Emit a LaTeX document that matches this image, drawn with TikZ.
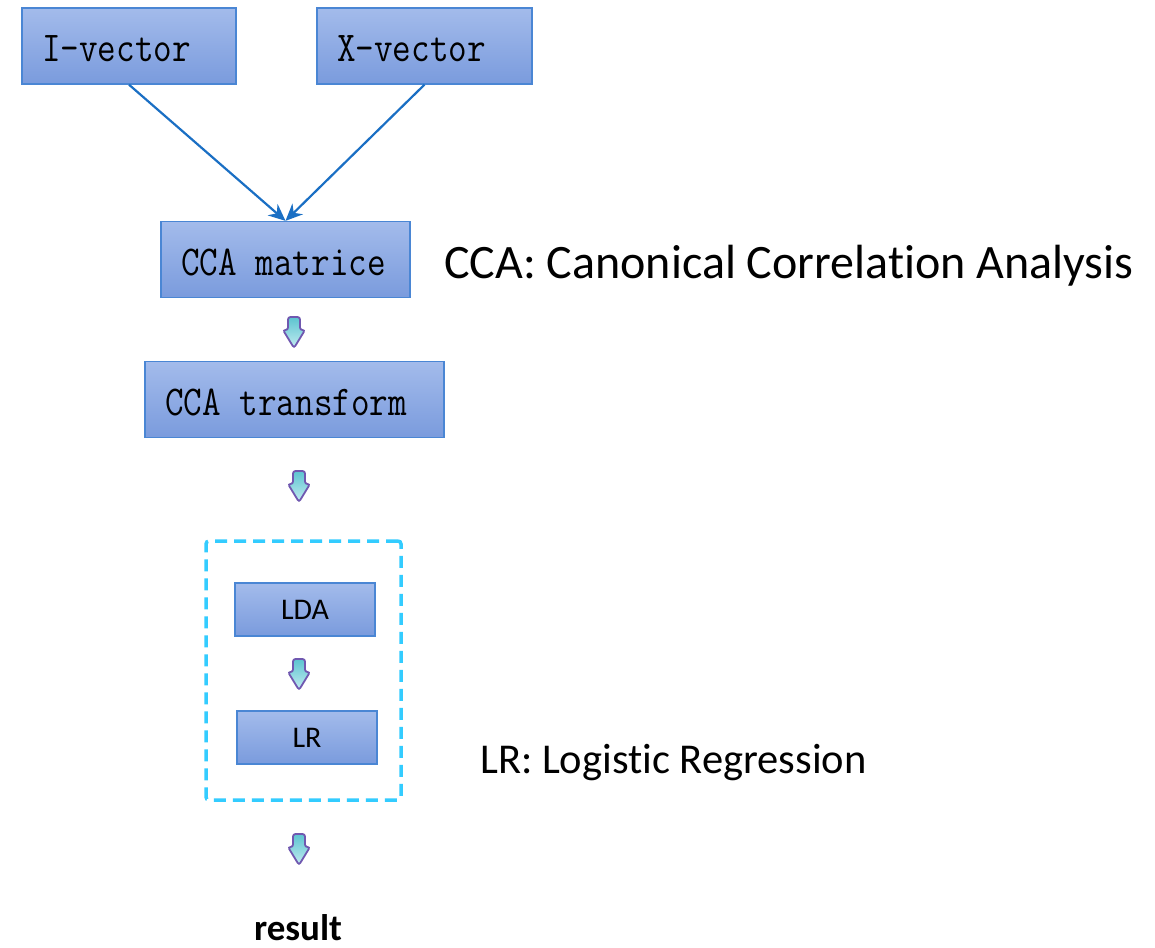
\documentclass[tikz,border=0pt]{standalone}
\usepackage{fontspec}
\usepackage{graphicx}
\setmainfont{Carlito}[Ligatures=NoCommon]
\usetikzlibrary{arrows.meta}

\definecolor{boxtop}{HTML}{A3BBEB}
\definecolor{boxbot}{HTML}{7A9BDD}
\definecolor{boxline}{HTML}{4A86D4}
\definecolor{linkblue}{HTML}{1A6FC4}
\definecolor{dashcyan}{HTML}{33CCFF}
\definecolor{arrline}{HTML}{7058B0}
\definecolor{arrleft}{HTML}{5CC4D0}
\definecolor{arrright}{HTML}{C4ECF1}

% condensed typewriter label used in the main boxes
\newcommand{\monolabel}[1]{\scalebox{0.85}[1]{\fontsize{42.5}{44}\ttfamily #1}}
% one typewriter character cell of blank space
\newcommand{\mgap}{\hspace*{0.525em}}

% small shaded block arrow pointing down; #1 = top-centre point
\newcommand{\downblock}[1]{%
  \begin{scope}[shift={#1}]
    \path[draw=arrline, line width=1.8pt, rounded corners=2.5pt,
          left color=arrleft, right color=arrright, shading angle=0]
      (-6,0) -- (6,0) -- (6,13) -- (11,13) -- (0,31) -- (-11,13) -- (-6,13) -- cycle;
  \end{scope}}

\tikzset{
  vbox/.style={draw=boxline, line width=1.3pt, top color=boxtop, bottom color=boxbot,
    inner xsep=20pt, inner ysep=0pt, align=left, minimum height=76pt,
    text height=32pt, text depth=0pt},
  sbox/.style={draw=boxline, line width=1.3pt, top color=boxtop, bottom color=boxbot,
    minimum width=140pt, minimum height=53pt, inner sep=0pt, font=\fontsize{30}{32}\selectfont},
  link/.style={draw=linkblue, line width=2.2pt, -{Stealth[length=17pt,width=15pt]}},
  groupbox/.style={draw=dashcyan, line width=3.5pt, dash pattern=on 12pt off 7pt,
    rounded corners=3pt, minimum width=195pt, minimum height=259pt, inner sep=0pt},
  note/.style={inner sep=0pt}
}

\begin{document}
\begin{tikzpicture}[x=1pt, y=-1pt]
  \useasboundingbox[fill=white] (0,0) rectangle (1155,947);

  \node[vbox, text width=174pt] (ivec) at (129,46) {\monolabel{I-vector}};
  \node[vbox, text width=175pt] (xvec) at (424.5,46) {\monolabel{X-vector}};
  \node[vbox, text width=209pt] (mat) at (285.5,259.5) {\monolabel{CCA\mgap matrice}};
  \node[vbox, text width=259pt] (trans) at (294.5,399.5) {\monolabel{CCA\mgap transform}};

  \node[groupbox] (group) at (303.5,670.5) {};
  \node[sbox] (lda) at (305,609.5) {LDA};
  \node[sbox] (lr) at (307,737.5) {LR};

  \node[note, anchor=base west, font=\fontsize{48}{50}\selectfont] (ccadef) at (444,278)
    {CCA: Canonical Correlation Analysis};
  \node[note, anchor=base west, font=\fontsize{42.5}{44}\selectfont] (lrdef) at (480,773)
    {LR: Logistic Regression};
  \node[note, anchor=base, font=\fontsize{37}{39}\selectfont\bfseries] (result) at (298,940)
    {result};

  \draw[link] (ivec.south) -- (mat.north);
  \draw[link] (xvec.south) -- (mat.north);

  \downblock{(294,317)}
  \downblock{(299,471)}
  \downblock{(299,659)}
  \downblock{(299,834)}
\end{tikzpicture}
\end{document}
